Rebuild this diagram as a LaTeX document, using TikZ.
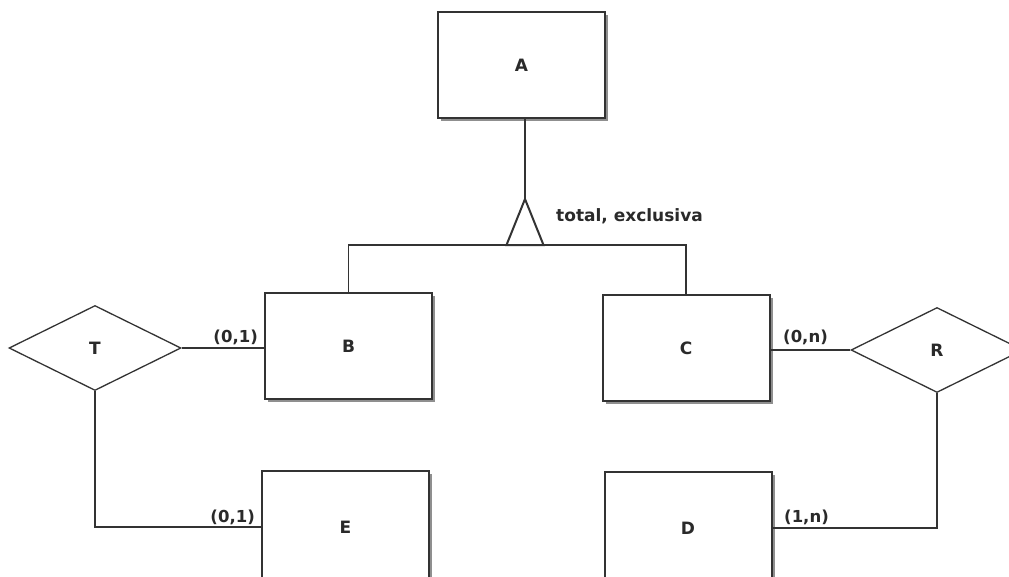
\documentclass[tikz,border=0pt]{standalone}
\usepackage{fontspec}
\setmainfont{DejaVu Sans}
\usetikzlibrary{shapes.geometric,shadows}
\definecolor{ln}{HTML}{333333}
\definecolor{tx}{HTML}{2A2A2A}
\begin{document}
\begin{tikzpicture}[x=1pt,y=-1pt,
  every node/.style={font=\fontsize{17}{20}\selectfont\bfseries, text=tx},
  entity/.style={draw=ln, line width=2pt, fill=white, rectangle, minimum width=167pt, minimum height=106pt, inner sep=0pt,
     drop shadow={shadow xshift=3pt, shadow yshift=-3pt, fill=black!55, opacity=0.8}},
  rel/.style={draw=ln, line width=1.3pt, fill=white, diamond, minimum width=172pt, minimum height=85pt, inner sep=0pt},
  conn/.style={draw=ln, line width=1.8pt},
  card/.style={inner sep=0pt, font=\fontsize{16.5}{19}\selectfont\bfseries}]
\useasboundingbox (0,0) rectangle (1009,576);
\clip (0,0) rectangle (1009,576);
\fill[white] (0,0) rectangle (1009,576);

\node[entity] (A) at (521.5,65) {A};
\node[entity] (B) at (348.5,346) {B};
\node[entity] (C) at (686,348) {C};
\node[entity, minimum height=112pt] (E) at (345.5,527) {E};
\node[entity, minimum height=112pt] (D) at (688,528) {D};

\node[rel] (T) at (95,348) {T};
\node[rel] (R) at (937,350) {R};

% generalization
\coordinate (apex) at (525,199);
\coordinate (base) at (525,245);
\draw[conn] (apex |- A.south) -- (apex);
\draw[draw=ln, line width=2pt, line join=miter] (apex) -- ++(18.5,46) -- ++(-37,0) -- cycle;
\draw[conn] (B.north) |- (base) -| (C.north);
\node[anchor=west, inner sep=0pt] (lbl) at (556,216) {total, exclusiva};

% relationships
\draw[conn] (T.east) -- (T.east -| B.west);
\draw[conn] (R.west) -- (R.west -| C.east);
\draw[conn] (T.south) |- (E.west);
\draw[conn] (R.south) |- (D.east);

% cardinalities
\node[card, anchor=south east] (c1) at (258,345) {(0,1)};
\node[card, anchor=south west] (c2) at (783,345) {(0,n)};
\node[card, anchor=south east] (c3) at (255,525) {(0,1)};
\node[card, anchor=south west] (c4) at (784,525) {(1,n)};
\end{tikzpicture}
\end{document}
